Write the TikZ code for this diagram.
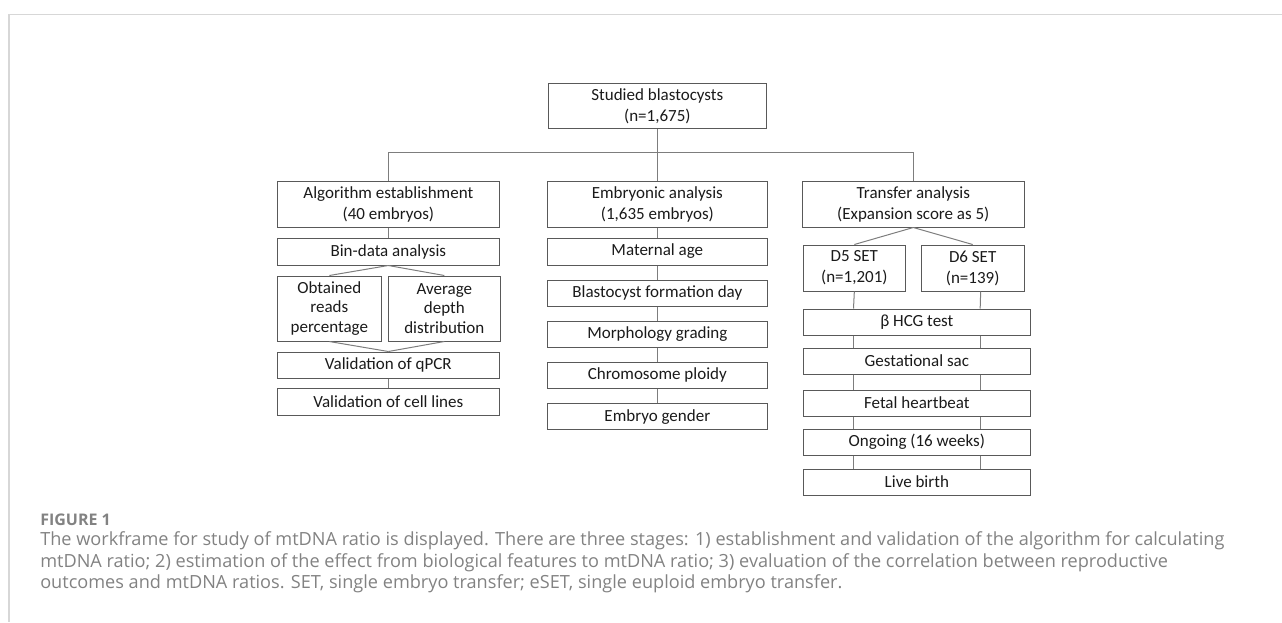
\documentclass[tikz,border=0pt]{standalone}
\usepackage{fontspec}
\usepackage{xcolor}
\usepackage{tikz}
\usetikzlibrary{positioning, calc}
\setmainfont{Carlito}
\newfontfamily\captionfont{Open Sans}
\definecolor{boxBorder}{RGB}{89, 89, 89}
\definecolor{linkGray}{RGB}{125, 125, 125}
\definecolor{textDark}{RGB}{26, 26, 26}
\definecolor{captionGray}{RGB}{130, 130, 130}
\definecolor{frameGray}{RGB}{215, 215, 215}

\begin{document}
\begin{tikzpicture}[
    node distance=7.5pt and 4.5pt,
    % Node styles
    stagebox/.style={
        rectangle,
        draw=boxBorder,
        line width=0.75pt,
        minimum width=165pt,
        minimum height=19.5pt,
        inner sep=1pt,
        align=center,
        font=\fontsize{12.75pt}{15.75pt}\selectfont,
        text=textDark
    },
    headbox/.style={
        stagebox,
        minimum height=34pt
    },
    smallbox/.style={
        stagebox,
        minimum width=77pt,
        minimum height=34.5pt
    },
    tallbox/.style={
        stagebox,
        minimum height=48.75pt,
        font=\fontsize{12.75pt}{14.5pt}\selectfont
    },
    link/.style={
        draw=linkGray,
        line width=0.75pt
    },
    capline/.style={
        anchor=base west,
        inner sep=0pt,
        font=\captionfont\fontsize{13.6pt}{15pt}\selectfont,
        text=captionGray
    }
]
\useasboundingbox (0,0) rectangle (961.5pt,-466.5pt);

% Page frame
\draw[frameGray, line width=1.1pt] (961.5pt,-10.9pt) -| (6.75pt,-466.5pt);

% Root
\node[headbox, minimum width=164pt] (root) at (493pt,-79.5pt) {Studied blastocysts\\(n=1,675)};

% Three stages
\node[headbox, below=39pt of root] (emb) {Embryonic analysis\\(1,635 embryos)};
\node[headbox, minimum width=166.5pt, left=35.25pt of emb] (alg) {Algorithm establishment\\(40 embryos)};
\node[headbox, minimum width=166.5pt, right=25.5pt of emb] (tra) {Transfer analysis\\(Expansion score as 5)};

% Algorithm column
\node[stagebox, minimum width=166.5pt, minimum height=20.25pt, below=of alg] (bin) {Bin-data analysis};
\node[tallbox, minimum width=78pt, below right=7.5pt and 0pt of bin.south west] (obt) {Obtained\\reads\\percentage};
\node[tallbox, minimum width=84pt, right=of obt] (avg) {Average\\depth\\distribution};
\node[stagebox, minimum width=166.5pt, below right=7.5pt and 0pt of obt.south west] (qpcr) {Validation of qPCR};
\node[stagebox, minimum width=166.5pt, minimum height=20.25pt, below=6.75pt of qpcr] (cell) {Validation of cell lines};

% Embryonic column
\node[stagebox, minimum height=20.25pt, below=of emb] (mat) {Maternal age};
\node[stagebox, below=10.5pt of mat] (bla) {Blastocyst formation day};
\node[stagebox, below=10.5pt of bla] (mor) {Morphology grading};
\node[stagebox, below=10.5pt of mor] (chr) {Chromosome ploidy};
\node[stagebox, below=11pt of chr] (gen) {Embryo gender};

% Transfer column
\node[smallbox, minimum width=76.5pt, below right=12.75pt and 0.75pt of tra.south west] (dfive) {D5 SET\\(n=1,201)};
\node[smallbox, right=11.25pt of dfive] (dsix) {D6 SET\\(n=139)};
\node[stagebox, minimum width=170.25pt, below right=12.75pt and 0pt of dfive.south west] (hcg) {β HCG test};
\node[stagebox, minimum width=170.25pt, below=9pt of hcg] (ges) {Gestational sac};
\node[stagebox, minimum width=170.25pt, below=11.25pt of ges] (fet) {Fetal heartbeat};
\node[stagebox, minimum width=170.25pt, below=9pt of fet] (ong) {Ongoing (16 weeks)};
\node[stagebox, minimum width=170.25pt, below=9.75pt of ong] (liv) {Live birth};

% Tree connectors
\coordinate (split) at ($(root.south)!0.44!(emb.north)$);
\draw[link] (root.south) -- (emb.north);
\draw[link] (alg.north) |- (split) -| (tra.north);

\draw[link] (alg) -- (bin);
\draw[link] (bin.south) -- (obt.north);
\draw[link] (bin.south) -- (avg.north);
\draw[link] (obt.south) -- (qpcr.north);
\draw[link] (avg.south) -- (qpcr.north);
\draw[link] (qpcr) -- (cell);

\draw[link] (emb) -- (mat);
\draw[link] (mat) -- (bla);
\draw[link] (bla) -- (mor);
\draw[link] (mor) -- (chr);
\draw[link] (chr) -- (gen);

\draw[link] (tra.south) -- (dfive.north);
\draw[link] (tra.south) -- (dsix.north);
\draw[link] (dfive.south) -- ([xshift=38pt]hcg.north west);
\draw[link] ([xshift=6pt]dsix.south) -- ([xshift=-38pt]hcg.north east);
\foreach \a/\b in {hcg/ges, ges/fet, fet/ong, ong/liv} {
    \draw[link] ([xshift=38pt]\a.south west) -- ([xshift=38pt]\b.north west);
    \draw[link] ([xshift=-38pt]\a.south east) -- ([xshift=-38pt]\b.north east);
}

% Caption
\node[capline, font=\captionfont\bfseries\fontsize{12pt}{14pt}\selectfont] (figlabel) at (30pt,-393.75pt) {FIGURE 1};
\node[capline] (cap1) at (30pt,-408.75pt) {The workframe for study of mtDNA ratio is displayed. There are three stages: 1) establishment and validation of the algorithm for calculating};
\node[capline] (cap2) at ([yshift=-16.5pt]cap1.base west) {mtDNA ratio; 2) estimation of the effect from biological features to mtDNA ratio; 3) evaluation of the correlation between reproductive};
\node[capline] (cap3) at ([yshift=-15.75pt]cap2.base west) {outcomes and mtDNA ratios. SET, single embryo transfer; eSET, single euploid embryo transfer.};

\end{tikzpicture}
\end{document}
